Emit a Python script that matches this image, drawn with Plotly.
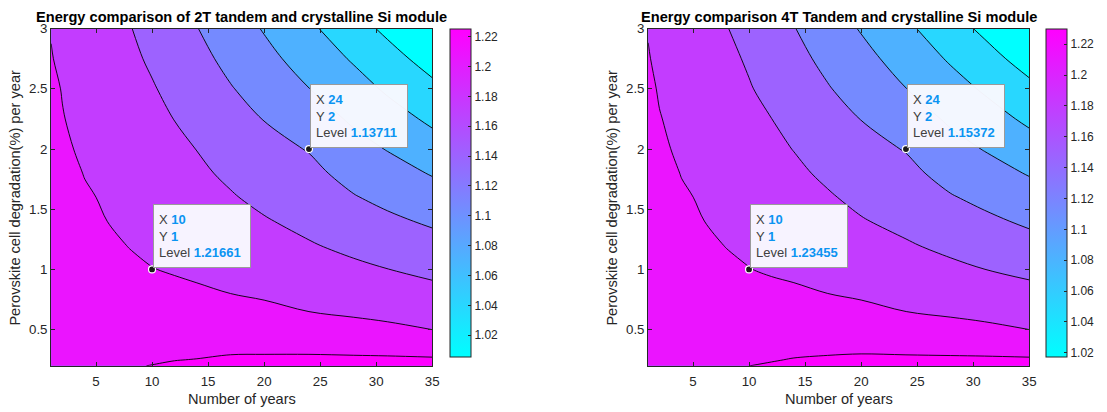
import plotly.graph_objects as go

# ---------------- data ----------------
years = [1, 2, 3, 4, 6, 8, 10, 12, 14, 17, 20, 24, 28, 31, 35]
degradation = [0.2, 0.25, 0.3, 0.4, 0.5, 0.65, 0.8, 1.0, 1.2, 1.4, 1.6, 1.8, 2.0, 2.25, 2.5, 2.75, 3.0]

# energy ratio, 2T tandem / crystalline Si (rows = degradation, columns = years)
ratio_2t = [
    [1.251, 1.251, 1.251, 1.251, 1.252, 1.253, 1.255, 1.257, 1.259, 1.261, 1.263, 1.265, 1.266, 1.266, 1.267],
    [1.251, 1.250, 1.250, 1.250, 1.250, 1.251, 1.252, 1.254, 1.255, 1.257, 1.259, 1.259, 1.259, 1.259, 1.258],
    [1.250, 1.249, 1.249, 1.249, 1.249, 1.249, 1.250, 1.251, 1.252, 1.254, 1.254, 1.254, 1.253, 1.252, 1.250],
    [1.249, 1.248, 1.247, 1.247, 1.246, 1.245, 1.245, 1.245, 1.246, 1.246, 1.245, 1.243, 1.240, 1.237, 1.233],
    [1.247, 1.246, 1.246, 1.245, 1.243, 1.242, 1.241, 1.239, 1.239, 1.238, 1.236, 1.232, 1.227, 1.223, 1.216],
    [1.245, 1.244, 1.242, 1.241, 1.238, 1.236, 1.233, 1.231, 1.229, 1.227, 1.223, 1.216, 1.211, 1.207, 1.202],
    [1.243, 1.241, 1.239, 1.238, 1.234, 1.230, 1.226, 1.222, 1.220, 1.216, 1.212, 1.206, 1.200, 1.195, 1.188],
    [1.241, 1.238, 1.235, 1.233, 1.228, 1.222, 1.21661, 1.214, 1.211, 1.207, 1.202, 1.193, 1.184, 1.178, 1.169],
    [1.238, 1.235, 1.231, 1.228, 1.222, 1.215, 1.211, 1.208, 1.204, 1.198, 1.191, 1.180, 1.170, 1.162, 1.152],
    [1.235, 1.231, 1.227, 1.224, 1.216, 1.211, 1.206, 1.202, 1.197, 1.189, 1.180, 1.169, 1.155, 1.146, 1.134],
    [1.233, 1.228, 1.224, 1.219, 1.213, 1.207, 1.202, 1.196, 1.190, 1.180, 1.170, 1.159, 1.141, 1.130, 1.116],
    [1.230, 1.225, 1.220, 1.215, 1.209, 1.203, 1.197, 1.190, 1.183, 1.172, 1.160, 1.148, 1.127, 1.115, 1.098],
    [1.227, 1.221, 1.216, 1.213, 1.206, 1.199, 1.192, 1.185, 1.177, 1.163, 1.151, 1.13711, 1.113, 1.099, 1.078],
    [1.224, 1.217, 1.213, 1.210, 1.202, 1.194, 1.186, 1.177, 1.167, 1.152, 1.138, 1.119, 1.095, 1.078, 1.055],
    [1.221, 1.215, 1.211, 1.207, 1.198, 1.189, 1.180, 1.169, 1.158, 1.141, 1.125, 1.101, 1.077, 1.057, 1.032],
    [1.217, 1.212, 1.208, 1.203, 1.194, 1.184, 1.173, 1.161, 1.149, 1.130, 1.111, 1.085, 1.058, 1.037, 1.009],
    [1.215, 1.210, 1.205, 1.200, 1.190, 1.179, 1.166, 1.153, 1.140, 1.119, 1.098, 1.069, 1.038, 1.016, 0.986],
]

# energy ratio, 4T tandem / crystalline Si
ratio_4t = [
    [1.270, 1.270, 1.270, 1.270, 1.270, 1.272, 1.273, 1.275, 1.277, 1.280, 1.282, 1.283, 1.285, 1.285, 1.286],
    [1.269, 1.269, 1.269, 1.269, 1.269, 1.270, 1.271, 1.272, 1.274, 1.276, 1.277, 1.278, 1.278, 1.278, 1.277],
    [1.268, 1.268, 1.268, 1.268, 1.267, 1.268, 1.268, 1.269, 1.271, 1.272, 1.273, 1.272, 1.271, 1.270, 1.268],
    [1.267, 1.266, 1.266, 1.265, 1.264, 1.263, 1.264, 1.264, 1.264, 1.264, 1.264, 1.261, 1.258, 1.256, 1.251],
    [1.266, 1.265, 1.265, 1.264, 1.262, 1.261, 1.260, 1.258, 1.258, 1.257, 1.255, 1.250, 1.245, 1.241, 1.234],
    [1.264, 1.262, 1.261, 1.259, 1.257, 1.254, 1.251, 1.249, 1.247, 1.245, 1.241, 1.234, 1.229, 1.225, 1.220],
    [1.262, 1.260, 1.258, 1.256, 1.252, 1.248, 1.244, 1.241, 1.238, 1.234, 1.230, 1.224, 1.217, 1.212, 1.205],
    [1.259, 1.256, 1.254, 1.251, 1.246, 1.240, 1.23455, 1.231, 1.229, 1.225, 1.219, 1.211, 1.202, 1.195, 1.187],
    [1.256, 1.253, 1.250, 1.247, 1.240, 1.233, 1.229, 1.226, 1.222, 1.216, 1.208, 1.198, 1.187, 1.179, 1.168],
    [1.253, 1.249, 1.246, 1.242, 1.234, 1.229, 1.224, 1.220, 1.215, 1.207, 1.197, 1.186, 1.172, 1.163, 1.150],
    [1.251, 1.246, 1.242, 1.237, 1.231, 1.225, 1.219, 1.214, 1.208, 1.198, 1.187, 1.176, 1.158, 1.147, 1.132],
    [1.248, 1.243, 1.238, 1.233, 1.227, 1.221, 1.214, 1.208, 1.201, 1.189, 1.177, 1.165, 1.143, 1.131, 1.114],
    [1.245, 1.239, 1.234, 1.231, 1.224, 1.217, 1.209, 1.202, 1.194, 1.180, 1.168, 1.15372, 1.129, 1.115, 1.094],
    [1.242, 1.235, 1.231, 1.228, 1.220, 1.212, 1.203, 1.195, 1.185, 1.169, 1.155, 1.135, 1.111, 1.094, 1.070],
    [1.239, 1.232, 1.228, 1.224, 1.216, 1.207, 1.197, 1.186, 1.175, 1.158, 1.141, 1.117, 1.092, 1.073, 1.047],
    [1.235, 1.230, 1.226, 1.221, 1.212, 1.202, 1.191, 1.178, 1.166, 1.147, 1.128, 1.101, 1.073, 1.052, 1.023],
    [1.233, 1.228, 1.223, 1.218, 1.207, 1.196, 1.183, 1.170, 1.157, 1.135, 1.114, 1.085, 1.053, 1.031, 1.000],
]

# contour levels (start, step, count)
levels_2t = (1.0235, 0.0385, 7)
levels_4t = (1.03819, 0.03915, 7)

# data tips
tip_x = [10, 24]
tip_y = [1, 2]
tip_level_2t = ['1.21661', '1.13711']
tip_level_4t = ['1.23455', '1.15372']

# colorbar
cbar_ticks = [1.02, 1.04, 1.06, 1.08, 1.1, 1.12, 1.14, 1.16, 1.18, 1.2, 1.22]
cbar_labels = ['1.02', '1.04', '1.06', '1.08', '1.1', '1.12', '1.14', '1.16', '1.18', '1.2', '1.22']
cbar_range_2t = (1.0055, 1.2253)
cbar_range_4t = (1.0174, 1.2300)

x_ticks = [5, 10, 15, 20, 25, 30, 35]
y_ticks = [0.5, 1, 1.5, 2, 2.5, 3]

titles = ['Energy comparison of 2T tandem and crystalline Si module',
          'Energy comparison 4T Tandem and crystalline Si module']
x_label = 'Number of years'
y_label = 'Perovskite cell degradation(%) per year'

# ---------------- styling ----------------
W, H = 1107, 412
FONT = 'Liberation Sans, Arial, Helvetica, sans-serif'
AX = '#262626'
TIPBLUE = '#0b94f2'


def cool(t):
    return f'rgb({round(255 * t)},{round(255 * (1 - t))},255)'


cool_scale = [[0, cool(0)], [1, cool(1)]]
band_t = [0, 0.155, 0.305, 0.46, 0.615, 0.765, 0.92, 1.0]
band_scale = [[k / 7, cool(t)] for k, t in enumerate(band_t)]

ytop, ybot = 22.0, 365.0
cb_top, cb_bot = 22.0, 356.0

panels = [
    dict(z=ratio_2t, lev=levels_2t, xd=(51.5, 435.0), cb=(453, 474), cr=cbar_range_2t,
         title=titles[0], tips=tip_level_2t, xa='x', ya='y'),
    dict(z=ratio_4t, lev=levels_4t, xd=(652.3, 1035.8), cb=(1053, 1074), cr=cbar_range_4t,
         title=titles[1], tips=tip_level_4t, xa='x2', ya='y2'),
]

fig = go.Figure()
annotations = []
for p in panels:
    st, sz, n = p['lev']
    fig.add_trace(go.Contour(
        x=years, y=degradation, z=p['z'], xaxis=p['xa'], yaxis=p['ya'],
        autocontour=False,
        contours=dict(start=st, end=st + (n - 1) * sz + 1e-6, size=sz, coloring='fill', showlines=True),
        line=dict(color='black', width=0.9, smoothing=1),
        colorscale=band_scale, showscale=False, hoverinfo='skip'))
    cb0, cb1 = p['cb']
    fig.add_trace(go.Scatter(
        x=[None], y=[None], xaxis=p['xa'], yaxis=p['ya'], mode='markers', showlegend=False,
        hoverinfo='skip',
        marker=dict(colorscale=cool_scale, cmin=p['cr'][0], cmax=p['cr'][1], color=[p['cr'][0]],
                    showscale=True,
                    colorbar=dict(x=cb0 / W, xanchor='left', thickness=cb1 - cb0, thicknessmode='pixels',
                                  y=1 - (cb_top + cb_bot) / 2 / H, yanchor='middle',
                                  len=(cb_bot - cb_top) / H, lenmode='fraction', xpad=0, ypad=0,
                                  outlinewidth=1, outlinecolor=AX,
                                  tickvals=cbar_ticks, ticktext=cbar_labels,
                                  ticks='inside', ticklen=3, tickcolor=AX,
                                  tickfont=dict(family=FONT, size=12, color=AX)))))
    fig.add_trace(go.Scatter(
        x=tip_x, y=tip_y, xaxis=p['xa'], yaxis=p['ya'],
        mode='markers', showlegend=False, hoverinfo='skip',
        marker=dict(color='#1a1a1a', size=7, line=dict(color='white', width=1.2))))
    for tx, ty, tv in zip(tip_x, tip_y, p['tips']):
        annotations.append(dict(
            x=tx, y=ty, xref=p['xa'], yref=p['ya'], xanchor='left', yanchor='bottom',
            xshift=1, yshift=1,
            showarrow=False, align='left', width=86, height=52, borderpad=5,
            bgcolor='rgba(249,249,255,0.97)', bordercolor='#9a9a9a', borderwidth=1,
            font=dict(family=FONT, size=13, color='#404040'),
            text=(f"X <b><span style='color:{TIPBLUE}'>{tx}</span></b><br>"
                  f"Y <b><span style='color:{TIPBLUE}'>{ty}</span></b><br>"
                  f"Level <b><span style='color:{TIPBLUE}'>{tv}</span></b>")))
    xc = (p['xd'][0] + p['xd'][1]) / 2 / W
    annotations.append(dict(x=xc, y=1 - 10 / H, xref='paper', yref='paper', showarrow=False,
                            xanchor='center', yanchor='middle', text='<b>' + p['title'] + '</b>',
                            font=dict(family=FONT, size=14.6, color='black')))
    annotations.append(dict(x=xc, y=1 - 399 / H, xref='paper', yref='paper', showarrow=False,
                            xanchor='center', yanchor='middle', text=x_label,
                            font=dict(family=FONT, size=14.6, color=AX)))
    annotations.append(dict(x=(p['xd'][0] - 36) / W, y=1 - (ytop + ybot) / 2 / H, xref='paper',
                            yref='paper', showarrow=False, xanchor='center', yanchor='middle',
                            textangle=-90, text=y_label,
                            font=dict(family=FONT, size=14.6, color=AX)))

axis_common = dict(showline=True, linecolor=AX, linewidth=1, mirror='ticks', ticks='inside',
                   ticklen=4, tickcolor=AX, tickfont=dict(family=FONT, size=13.3, color=AX),
                   showgrid=False, zeroline=False)

fig.update_layout(
    width=W, height=H, margin=dict(l=0, r=0, t=0, b=0),
    paper_bgcolor='white', plot_bgcolor='white', showlegend=False,
    annotations=annotations,
    xaxis=dict(domain=[51.5 / W, 435.0 / W], range=[1, 35], tickvals=x_ticks, anchor='y',
               ticklabelstandoff=3, **axis_common),
    yaxis=dict(domain=[1 - ybot / H, 1 - ytop / H], range=[0.2, 3], tickvals=y_ticks, anchor='x',
               **axis_common),
    xaxis2=dict(domain=[652.3 / W, 1035.8 / W], range=[1, 35], tickvals=x_ticks, anchor='y2',
                ticklabelstandoff=3, **axis_common),
    yaxis2=dict(domain=[1 - ybot / H, 1 - ytop / H], range=[0.2, 3], tickvals=y_ticks, anchor='x2',
                **axis_common),
)

fig.write_html('out.html')
